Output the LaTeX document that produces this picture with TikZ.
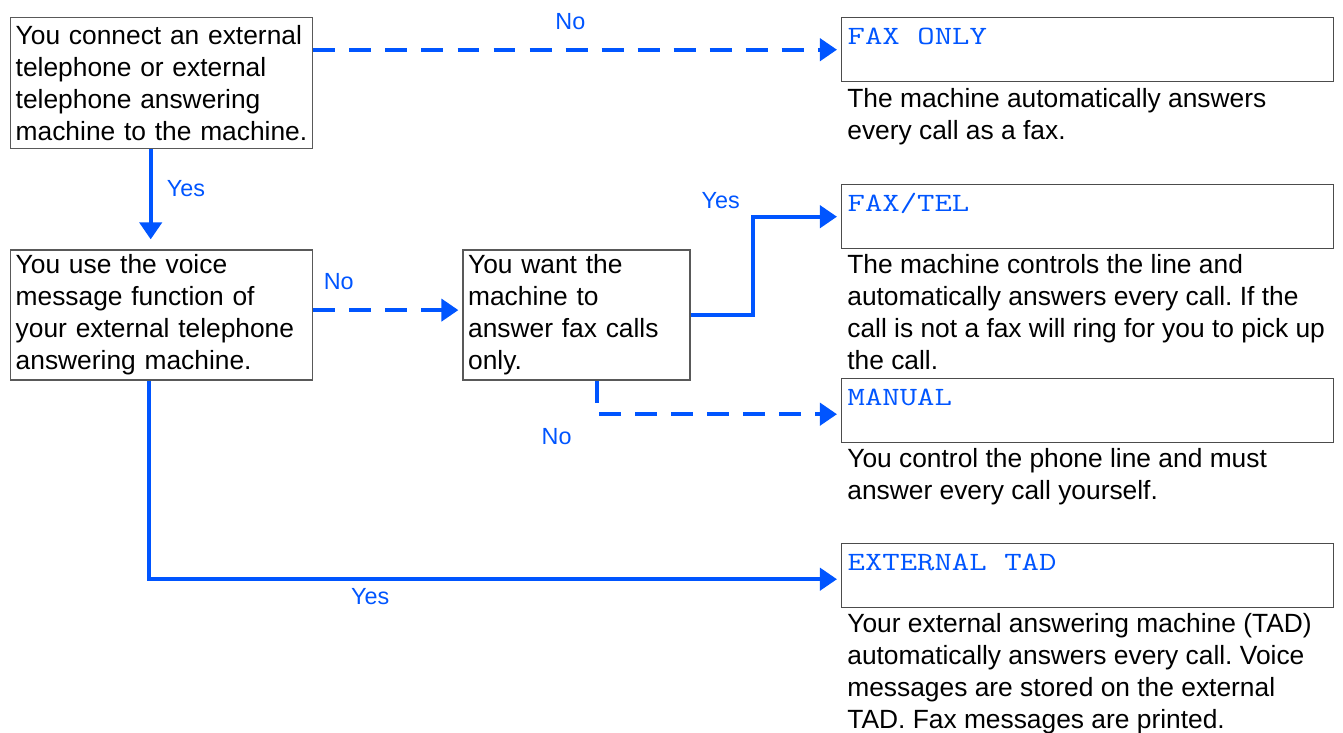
\documentclass[tikz,border=0pt]{standalone}
\usepackage{fontspec}
\setmainfont{Liberation Sans}
\newfontfamily\modefont[FakeStretch=1.28]{Latin Modern Mono}
\newcommand\modesp{\hspace{0.67em}}
\usetikzlibrary{positioning,arrows.meta,calc}
\definecolor{flowblue}{RGB}{0,85,255}
\frenchspacing
\tikzset{
  >={Triangle[length=9.7pt,width=12.5pt]},
  qbox/.style={draw=black!65,line width=0.8pt,anchor=north west,align=left,
    inner xsep=0.10cm,inner ysep=0pt,font=\fontsize{15pt}{18.2pt}\selectfont},
  modebox/.style={draw=black!70,line width=0.8pt,anchor=north west,align=left,
    text width=9.60cm,inner xsep=0.12cm,inner ysep=0pt,text height=0.54cm,
    text depth=0.74cm,text=flowblue,font=\modefont\fontsize{15pt}{18pt}\selectfont},
  desc/.style={align=left,inner sep=0pt,font=\fontsize{15pt}{18.2pt}\selectfont},
  yesedge/.style={->,draw=flowblue,line width=2.4pt,shorten >=0.08cm},
  noedge/.style={yesedge,dash pattern=on 12.5pt off 8pt},
  edgelbl/.style={text=flowblue,inner sep=0pt,font=\fontsize{13.3pt}{16pt}\selectfont},
}
\begin{document}
\begin{tikzpicture}
  \useasboundingbox (0,0) rectangle (26.86,-14.66);
  \node[qbox,text width=5.84cm,minimum height=2.62cm] (conn) at (0.20,-0.34)
    {You connect an external\\telephone or external\\telephone answering\\\mbox{machine to the machine.}};
  \node[qbox,text width=5.84cm,minimum height=2.60cm,below=2cm of conn.south west,anchor=north west] (voice)
    {You use the voice\\message function of\\your external telephone\\answering machine.};
  \node[qbox,text width=4.34cm,minimum height=2.60cm,right=2.98cm of voice] (want)
    {You want the\\machine to\\answer fax calls\\only.};
  \node[modebox] (fo) at (16.82,-0.34) {FAX\modesp ONLY};
  \node[modebox] (ft) at (16.82,-3.68) {FAX/TEL};
  \node[modebox] (mn) at (16.82,-7.56) {MANUAL};
  \node[modebox] (et) at (16.82,-10.86) {EXTERNAL\modesp TAD};
  \node[desc,below right=0.12cm and 0.12cm of fo.south west] (fodesc)
    {The machine automatically answers\\every call as a fax.};
  \node[desc,below right=0.10cm and 0.12cm of ft.south west] (ftdesc)
    {The machine controls the line and\\automatically answers every call. If the\\call is not a fax will ring for you to pick up\\the call.};
  \node[desc,below right=0.10cm and 0.12cm of mn.south west] (mndesc)
    {You control the phone line and must\\answer every call yourself.};
  \node[desc,below right=0.10cm and 0.12cm of et.south west] (etdesc)
    {Your external answering machine (TAD)\\automatically answers every call. Voice\\messages are stored on the external\\TAD. Fax messages are printed.};
  \draw[noedge] (conn.east |- fo.west) -- (fo.west)
    node[edgelbl,pos=0.487,above=0.36cm] {No};
  \draw[yesedge,shorten >=0.2cm] ([xshift=-0.22cm]conn.south) -- ([xshift=-0.22cm]voice.north)
    node[edgelbl,pos=0.39,right=0.28cm] {Yes};
  \draw[noedge] ([yshift=0.1cm]voice.east) -- ([yshift=0.1cm]want.west)
    node[edgelbl,pos=0.17,above=0.36cm] {No};
  \draw[yesedge] (want.east) -- ++(1.24cm,0) |- (ft.west)
    node[edgelbl,pos=0.5,anchor=south east,xshift=-0.22cm,yshift=0.12cm] {Yes};
  \draw[noedge] ([xshift=0.4cm]want.south) |- ([yshift=-0.07cm]mn.west)
    node[edgelbl,pos=0.5,anchor=north east,xshift=-0.46cm,yshift=-0.25cm] {No};
  \draw[yesedge] ([xshift=-0.26cm]voice.south) |- ([yshift=-0.07cm]et.west)
    node[edgelbl,pos=0.66,below=0.15cm] {Yes};
\end{tikzpicture}
\end{document}
